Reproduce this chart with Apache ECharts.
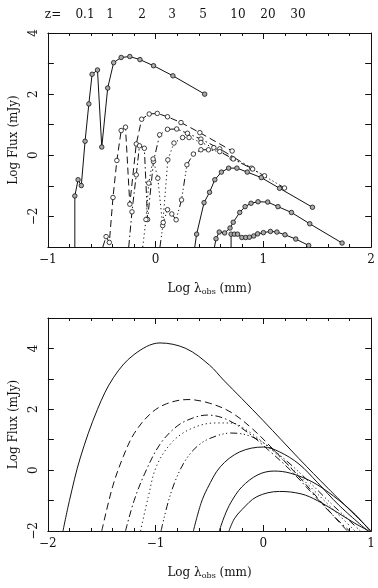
<!DOCTYPE html>
<html lang="en">
<head>
<meta charset="UTF-8">
<title>SED vs redshift</title>
<style>
  html, body { margin: 0; padding: 0; background: #fff; }
  #chart { width: 378px; height: 588px; }
</style>
</head>
<body>
<div id="chart"></div>
<script src="https://cdn.jsdelivr.net/npm/echarts@6/dist/echarts.min.js"></script>
<script>
// redshift labels along the top
var zLabels = ['0.1', '1', '2', '3', '5', '10', '20', '30'];

// top panel: observed points [log lambda (mm), log flux (mJy)]
var topZ01 = [[-0.75,-3],[-0.75,-1.33],[-0.72,-0.80],[-0.69,-0.99],[-0.655,0.46],[-0.62,1.68],[-0.59,2.65],[-0.54,2.79],[-0.50,0.27],[-0.445,2.2],[-0.39,3.03],[-0.32,3.2],[-0.24,3.23],[-0.146,3.13],[-0.02,2.93],[0.16,2.6],[0.455,2.0]];
var topZ1 = [[-0.49,-3],[-0.46,-2.66],[-0.43,-2.85],[-0.396,-1.38],[-0.36,-0.17],[-0.32,0.81],[-0.28,0.92],[-0.24,-1.6],[-0.18,0.37],[-0.13,1.18],[-0.06,1.35],[0.015,1.37],[0.11,1.26],[0.235,1.07],[0.41,0.74],[0.71,0.14]];
var topZ2 = [[-0.25,-3],[-0.22,-1.85],[-0.18,-0.64],[-0.15,0.31],[-0.105,0.23],[-0.075,-2.1],[-0.02,-0.2],[0.037,0.67],[0.11,0.85],[0.195,0.86],[0.295,0.72],[0.42,0.53],[0.595,0.21],[0.89,-0.42]];
var topZ3 = [[-0.12,-3],[-0.09,-2.1],[-0.064,-0.91],[-0.024,-0.12],[0.02,-0.75],[0.065,-2.3],[0.113,-0.15],[0.17,0.40],[0.25,0.58],[0.31,0.58],[0.42,0.42],[0.54,0.25],[0.71,-0.1],[1.01,-0.67]];
var topZ5 = [[0.04,-3],[0.07,-2.2],[0.11,-1.78],[0.15,-1.92],[0.19,-2.11],[0.24,-1.46],[0.29,-0.31],[0.35,0.04],[0.42,0.18],[0.49,0.18],[0.595,0.12],[0.72,-0.12],[0.90,-0.45],[1.196,-1.07]];
var topZ10 = [[0.363,-3],[0.38,-2.58],[0.449,-1.55],[0.50,-1.21],[0.549,-0.80],[0.61,-0.55],[0.677,-0.42],[0.754,-0.42],[0.85,-0.55],[0.98,-0.73],[1.15,-1.08],[1.455,-1.70]];
var topZ20 = [[0.546,-3],[0.56,-2.73],[0.59,-2.51],[0.64,-2.54],[0.69,-2.38],[0.72,-2.19],[0.78,-1.87],[0.83,-1.68],[0.885,-1.57],[0.95,-1.52],[1.04,-1.53],[1.135,-1.68],[1.26,-1.87],[1.43,-2.24],[1.73,-2.87]];
var topZ30 = [[0.70,-3],[0.70,-2.58],[0.73,-2.58],[0.76,-2.58],[0.80,-2.69],[0.836,-2.69],[0.87,-2.68],[0.91,-2.64],[0.946,-2.57],[1.0,-2.53],[1.065,-2.49],[1.125,-2.51],[1.20,-2.6],[1.30,-2.74],[1.42,-2.95]];

// bottom panel: model curves
var botZ01 = [[-1.86,-2],[-1.8,-1.0],[-1.7,0.4],[-1.54,2.0],[-1.39,3.05],[-1.2,3.8],[-0.96,4.18],[-0.72,4.0],[-0.5,3.45],[-0.37,2.96],[-0.2,2.35],[0.0,1.62],[0.33,0.38],[0.6,-0.6],[1.0,-2.0]];
var botZ1 = [[-1.5,-2],[-1.4,-0.55],[-1.3,0.45],[-1.2,1.2],[-1.05,1.85],[-0.9,2.18],[-0.7,2.32],[-0.5,2.2],[-0.3,1.9],[-0.1,1.35],[0.1,0.65],[0.3,-0.1],[0.5,-0.9],[0.7,-1.7],[0.78,-2]];
var botZ2 = [[-1.28,-2],[-1.2,-1.0],[-1.1,-0.1],[-0.96,0.85],[-0.8,1.45],[-0.65,1.72],[-0.52,1.81],[-0.35,1.68],[-0.15,1.25],[0.05,0.65],[0.25,0.0],[0.45,-0.75],[0.65,-1.5],[0.8,-2]];
var botZ3 = [[-1.14,-2],[-1.07,-0.9],[-0.99,0.15],[-0.84,0.95],[-0.66,1.38],[-0.45,1.55],[-0.3,1.55],[-0.15,1.3],[0.05,0.75],[0.25,0.1],[0.45,-0.6],[0.65,-1.3],[0.85,-2]];
var botZ5 = [[-0.95,-2],[-0.88,-1.0],[-0.8,-0.2],[-0.7,0.45],[-0.58,0.88],[-0.44,1.12],[-0.3,1.22],[-0.15,1.15],[0.0,0.9],[0.2,0.35],[0.4,-0.3],[0.6,-1.0],[0.78,-1.6],[0.9,-2]];
var botZ10 = [[-0.65,-2],[-0.58,-1.1],[-0.52,-0.6],[-0.4,0.11],[-0.22,0.6],[0.0,0.76],[0.15,0.6],[0.33,0.2],[0.5,-0.4],[0.7,-1.15],[0.97,-2]];
var botZ20 = [[-0.41,-2],[-0.36,-1.5],[-0.3,-1.05],[-0.2,-0.55],[-0.05,-0.15],[0.1,-0.03],[0.25,-0.1],[0.45,-0.38],[0.65,-0.85],[0.85,-1.45],[0.99,-2]];
var botZ30 = [[-0.32,-2],[-0.27,-1.6],[-0.2,-1.3],[-0.06,-0.87],[0.15,-0.7],[0.35,-0.78],[0.5,-1.0],[0.7,-1.42],[0.85,-1.75],[0.98,-2]];

var topSets = [topZ01, topZ1, topZ2, topZ3, topZ5, topZ10, topZ20, topZ30];
var botSets = [botZ01, botZ1, botZ2, botZ3, botZ5, botZ10, botZ20, botZ30];

// styles per redshift
var dashes = ['solid', [7, 4], [7, 3, 1.5, 3], [1.2, 3], [7, 3, 1.2, 2.5, 1.2, 2.5, 1.2, 3], 'solid', 'solid', 'solid'];
var fills = ['#aaa', '#fff', '#fff', '#fff', '#fff', '#aaa', '#aaa', '#aaa'];
var zLabelX = [85, 110, 142, 172, 203, 238, 268, 298];

var FONT = 'DejaVu Serif';
var INK = '#111';

function minus(v) {
    return v < 0 ? '\u2212' + Math.abs(v) : String(v);
}

var xName = {
    text: '{a|Log λ}{s|obs}{a| (mm)}',
    rich: {
        a: { fontFamily: FONT, fontSize: 12, color: INK },
        s: { fontFamily: FONT, fontSize: 8, color: INK, padding: [7, 0, 0, 0] }
    }
};

function xAxes(g, min, max) {
    var base = {
        type: 'value', gridIndex: g, min: min, max: max, interval: 1,
        axisLine: { onZero: false, lineStyle: { color: INK, width: 1 } },
        axisTick: { inside: true, length: 6, lineStyle: { color: INK } },
        minorTick: { show: true, splitNumber: 5, length: 3, lineStyle: { color: INK } },
        splitLine: { show: false }
    };
    var bottom = Object.assign({}, base, {
        position: 'bottom',
        axisLabel: { formatter: minus, color: INK, fontFamily: FONT, fontSize: 12, margin: 7 },
        name: xName.text, nameLocation: 'middle', nameGap: 34,
        nameTextStyle: { rich: xName.rich }
    });
    var top = Object.assign({}, base, { position: 'top', axisLabel: { show: false } });
    return [bottom, top];
}

function yAxes(g, min, max) {
    var base = {
        type: 'value', gridIndex: g, min: min, max: max, interval: 1,
        axisLine: { onZero: false, lineStyle: { color: INK, width: 1 } },
        axisTick: { inside: true, length: 6, lineStyle: { color: INK } },
        splitLine: { show: false }
    };
    var left = Object.assign({}, base, {
        position: 'left',
        axisLabel: {
            rotate: 90, color: INK, fontFamily: FONT, fontSize: 12, margin: 8,
            formatter: function (v) { return v % 2 === 0 ? minus(v) : ''; }
        },
        name: 'Log Flux (mJy)', nameLocation: 'middle', nameGap: 24,
        nameTextStyle: { fontFamily: FONT, fontSize: 12, color: INK }
    });
    var right = Object.assign({}, base, { position: 'right', axisLabel: { show: false } });
    return [left, right];
}

var series = [];
topSets.forEach(function (pts, i) {
    series.push({
        type: 'line', xAxisIndex: 0, yAxisIndex: 0,
        data: pts.map(function (p) {
            return p[1] <= -3 ? { value: p, symbol: 'none' } : { value: p };
        }),
        symbol: 'circle', symbolSize: 4.5,
        itemStyle: { color: fills[i], borderColor: INK, borderWidth: 0.8 },
        lineStyle: { color: INK, width: 1, type: dashes[i] },
        animation: false, z: 3
    });
});
botSets.forEach(function (pts, i) {
    series.push({
        type: 'line', xAxisIndex: 2, yAxisIndex: 2,
        data: pts, showSymbol: false, smooth: 0.35,
        lineStyle: { color: INK, width: 1, type: dashes[i] },
        animation: false
    });
});

var graphics = [{ type: 'text', x: 53, y: 15, style: { text: 'z=', font: '12px ' + FONT, fill: INK, textAlign: 'center', textVerticalAlign: 'middle' } }];
zLabels.forEach(function (t, i) {
    graphics.push({ type: 'text', x: zLabelX[i], y: 15, style: { text: t, font: '12px ' + FONT, fill: INK, textAlign: 'center', textVerticalAlign: 'middle' } });
});

var chart = echarts.init(document.getElementById('chart'));
chart.setOption({
    backgroundColor: '#fff',
    animation: false,
    grid: [
        { left: 45, top: 33, width: 328, height: 214 },
        { left: 45, top: 318, width: 328, height: 213 }
    ],
    xAxis: xAxes(0, -1, 2).concat(xAxes(1, -2, 1)),
    yAxis: yAxes(0, -3, 4).concat(yAxes(1, -2, 5)),
    graphic: graphics,
    series: series
});
</script>
</body>
</html>
